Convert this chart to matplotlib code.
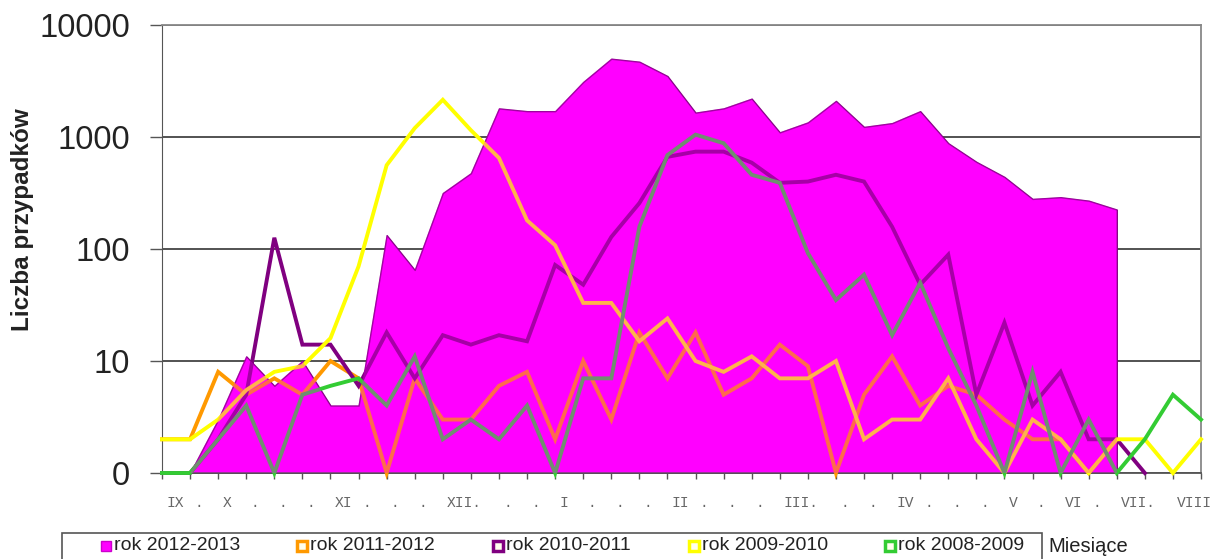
import numpy as np
import matplotlib
matplotlib.use("Agg")
import matplotlib.pyplot as plt
from matplotlib.patches import Rectangle

# Weekly case counts, one value per week from IX to VIII (0 = no cases)
nan = np.nan
rok_2012_2013 = [0, 0, 3, 11, 6, 10, 4, 4, 133, 65, 316, 475, 1800, 1700, 1700, 3100,
                 5000, 4700, 3500, 1650, 1800, 2200, 1100, 1350, 2100, 1230, 1330, 1700,
                 880, 600, 440, 280, 290, 270, 225, nan, nan, nan]
rok_2011_2012 = [2, 2, 8, 5, 7, 5, 10, 7, 0, 7, 3, 3, 6, 8, 2, 10, 3, 18, 7, 18,
                 5, 7, 14, 9, 0, 5, 11, 4, 6, 5, 3, 2, 2, 0, 2, nan, nan, nan]
rok_2010_2011 = [0, 0, 2, 5, 126, 14, 14, 6, 18, 7, 17, 14, 17, 15, 72, 48, 128, 257,
                 665, 740, 740, 590, 390, 400, 460, 400, 158, 48, 89, 5, 22, 4, 8, 2, 2,
                 0, nan, nan]
rok_2009_2010 = [2, 2, 3, 5.5, 8, 9, 16, 70, 560, 1200, 2150, 1150, 650, 180, 108, 33,
                 33, 15, 24, 10, 8, 11, 7, 7, 10, 2, 3, 3, 7, 2, 0, 3, 2, 0, 2, 2, 0, 2]
rok_2008_2009 = [0, 0, 2, 4, 0, 5, 6, 7, 4, 11, 2, 3, 2, 4, 0, 7, 7, 158, 690, 1050,
                 880, 460, 390, 92, 35, 59, 17, 50, 13, 4, 0, 8, 0, 3, 0, 2, 5, 3]

week_labels = ["IX", ".", "X", ".", ".", ".", "XI", ".", ".", ".", "XII.", "", ".", ".",
               "I", ".", ".", ".", "II", ".", ".", ".", "III.", "", ".", ".", "IV", ".",
               ".", ".", "V", ".", "VI", ".", "VII.", "", "VIII", ""]

line_series = [
    ("rok 2011-2012", rok_2011_2012, "#ff9900"),
    ("rok 2010-2011", rok_2010_2011, "#800080"),
    ("rok 2009-2010", rok_2009_2010, "#ffff00"),
    ("rok 2008-2009", rok_2008_2009, "#33cc33"),
]
MAGENTA = "#ff00ff"

W, H = 1223, 559
plt.rcParams["font.family"] = ["Liberation Sans", "DejaVu Sans"]

fig = plt.figure(figsize=(W / 100, H / 100), dpi=100)
ax = fig.add_axes([162 / W, 1 - 473 / H, (1201 - 162) / W, (473 - 25) / H])

x = np.arange(len(week_labels))
m = np.array(rok_2012_2013, dtype=float)
ok = ~np.isnan(m)
# log axis: zero counts sit on the floor (1), which is labelled "0"
m_plot = np.clip(m[ok], 1, None)
ax.fill_between(x[ok], 1, m_plot, facecolor=MAGENTA, edgecolor="#800080",
                linewidth=1, zorder=2)

for name, vals, col in line_series:
    v = np.clip(np.array(vals, dtype=float), 1, None)
    ax.plot(x, v, color=col, linewidth=2.8, zorder=3, clip_on=False,
            solid_joinstyle="miter")

# lines seen through the area look tinted in the original
ax.fill_between(x[ok], 1, m_plot, facecolor=MAGENTA, alpha=0.3, linewidth=0, zorder=4)

ax.set_yscale("log")
ax.set_ylim(1, 10000)
ax.set_xlim(0, len(week_labels) - 1)
ax.set_yticks([1, 10, 100, 1000, 10000])
ax.set_yticklabels(["0", "10", "100", "1000", "10000"], fontsize=23.5, color="#222222")
ax.minorticks_off()
ax.tick_params(axis="y", direction="out", length=9, width=1, color="#555555", pad=14)
ax.set_xticks(x)
ax.set_xticklabels([])
ax.tick_params(axis="x", direction="out", length=4, width=1, color="#555555")
for i, lab in enumerate(week_labels):
    ax.text(i + 0.15, -0.067, lab, transform=ax.get_xaxis_transform(), ha="left",
            va="center", fontsize=10.5, color="#666666", family="Liberation Mono")

ax.grid(axis="y", which="major", color="#444444", linewidth=1.3, zorder=0)
ax.set_axisbelow(True)
for side in ["top", "right"]:
    ax.spines[side].set_color("#888888")
    ax.spines[side].set_linewidth(1.3)
ax.spines["left"].set_color("#555555")
ax.spines["bottom"].set_color("#555555")
ax.spines["bottom"].set_linewidth(1.3)

fig.text(22 / W, 1 - 220 / H, "Liczba przypadków", rotation=90, ha="center",
         va="center", fontsize=17.5, fontweight="bold", color="#222222")

# legend box along the bottom edge
fig.add_artist(Rectangle((62 / W, 1 - 580 / H), (1042 - 62) / W, (580 - 533) / H,
                         transform=fig.transFigure, fill=False, edgecolor="#555555",
                         linewidth=1.2))
legend_items = [("rok 2012-2013", MAGENTA)] + [(n, c) for n, _, c in line_series]
for k, (name, col) in enumerate(legend_items):
    cx = 106 + 196 * k
    cy = 546
    if k == 0:
        fc, ec, lw = col, "#cc00cc", 1
    else:
        fc, ec, lw = "#ffffee", col, 2.5
    fig.add_artist(Rectangle(((cx - 5) / W, 1 - (cy + 5) / H), 10 / W, 10 / H,
                             transform=fig.transFigure, facecolor=fc, edgecolor=ec,
                             linewidth=lw))
    fig.text((cx + 8) / W, 1 - cy / H, name, ha="left", va="center", fontsize=14,
             color="#222222")
fig.text(1048 / W, 1 - 546 / H, "Miesiące", ha="left", va="center", fontsize=14.5,
         color="#222222")

fig.savefig("out.png", dpi=100, facecolor="white")
